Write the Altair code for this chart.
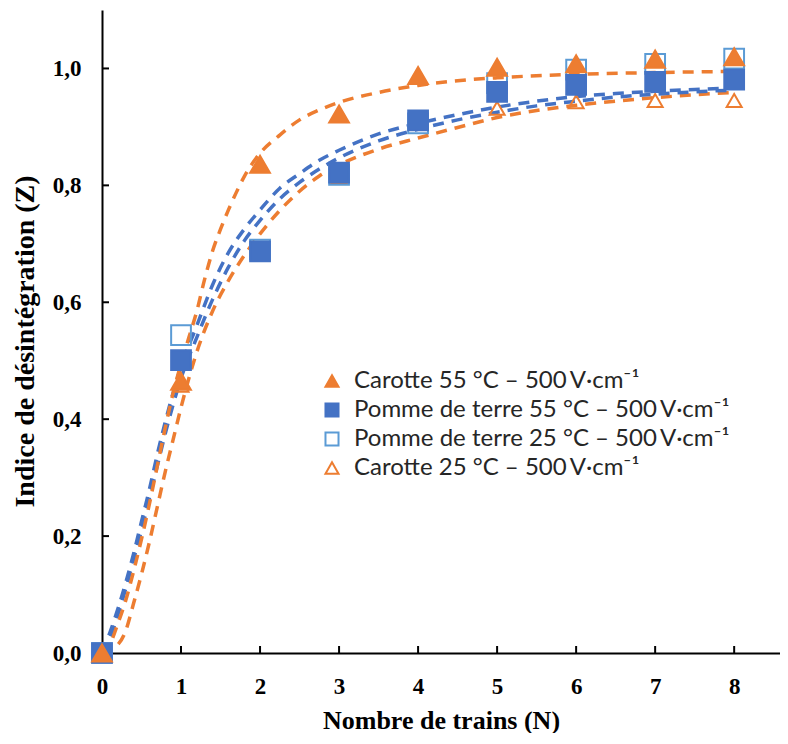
import altair as alt
import pandas as pd

# ---------------- data ----------------
N = [0, 1, 2, 3, 4, 5, 6, 7, 8]
carotte55 = [0, 0.465, 0.836, 0.922, 0.988, 1.002, 1.008, 1.016, 1.020]
pomme55 = [0, 0.501, 0.687, 0.822, 0.911, 0.960, 0.972, 0.977, 0.981]
pomme25 = [0, 0.544, 0.690, 0.818, 0.906, 0.975, 0.998, 1.008, 1.017]
carotte25 = [0, 0.458, 0.684, 0.815, 0.913, 0.932, 0.943, 0.945, 0.945]

# fitted curves
fit_c55_N = [0, 0.1, 0.2, 0.3, 0.4, 0.5, 0.6, 0.7, 0.8, 0.9, 1.0, 1.1, 1.2, 1.3, 1.4, 1.5,
             1.6, 1.7, 1.8, 2.0, 2.25, 2.5, 2.75, 3.0, 3.5, 4.0, 4.5, 5.0, 6.0, 7.0, 8.0]
fit_c55_Z = [0, 0.015, 0.05, 0.09, 0.14, 0.195, 0.255, 0.32, 0.385, 0.445, 0.495, 0.54, 0.585,
             0.64, 0.688, 0.725, 0.758, 0.788, 0.815, 0.855, 0.886, 0.912, 0.929, 0.942, 0.959,
             0.971, 0.979, 0.984, 0.990, 0.993, 0.995]

fit_p_N = [0, 0.1, 0.2, 0.3, 0.4, 0.5, 0.6, 0.7, 0.8, 0.9, 1.0, 1.2, 1.4, 1.6, 1.8, 2.0, 2.25,
           2.5, 2.75, 3.0, 3.5, 4.0, 4.5, 5.0, 5.5, 6.0, 6.5, 7.0, 7.5, 8.0]
fit_p25_Z = [0, 0.035, 0.075, 0.12, 0.17, 0.225, 0.28, 0.34, 0.395, 0.445, 0.49, 0.56, 0.63,
             0.685, 0.725, 0.758, 0.795, 0.82, 0.843, 0.86, 0.888, 0.906, 0.921, 0.934, 0.944,
             0.952, 0.957, 0.961, 0.964, 0.967]
fit_p55_Z = [0, 0.025, 0.065, 0.11, 0.16, 0.21, 0.265, 0.32, 0.375, 0.425, 0.47, 0.54, 0.605,
             0.66, 0.705, 0.74, 0.777, 0.805, 0.828, 0.847, 0.876, 0.896, 0.912, 0.925, 0.936,
             0.944, 0.951, 0.956, 0.96, 0.963]

fit_c25_N = [0, 0.15, 0.3, 0.4, 0.5, 0.6, 0.7, 0.8, 0.9, 1.0, 1.2, 1.4, 1.6, 1.8, 2.0, 2.25,
             2.5, 2.75, 3.0, 3.5, 4.0, 4.5, 5.0, 5.5, 6.0, 6.5, 7.0, 7.5, 8.0]
fit_c25_Z = [0, 0.008, 0.038, 0.085, 0.135, 0.19, 0.25, 0.31, 0.365, 0.42, 0.515, 0.585, 0.637,
             0.68, 0.717, 0.757, 0.79, 0.816, 0.835, 0.862, 0.881, 0.899, 0.916, 0.928, 0.937,
             0.944, 0.95, 0.955, 0.959]

x_ticks = [0, 1, 2, 3, 4, 5, 6, 7, 8]
y_ticks = [0.0, 0.2, 0.4, 0.6, 0.8, 1.0]

S_C55 = "Carotte 55 °C – 500\u2009V·cm⁻¹"
S_P55 = "Pomme de terre 55 °C – 500\u2009V·cm⁻¹"
S_P25 = "Pomme de terre 25 °C – 500\u2009V·cm⁻¹"
S_C25 = "Carotte 25 °C – 500\u2009V·cm⁻¹"
series_order = [S_C55, S_P55, S_P25, S_C25]

ORANGE = "#ED7D31"
BLUE = "#4472C4"
LBLUE = "#5B9BD5"

# ---------------- tables ----------------
rows = []
for name, vals in [(S_C25, carotte25), (S_P25, pomme25), (S_P55, pomme55), (S_C55, carotte55)]:
    for n, z in zip(N, vals):
        rows.append({"N": n, "Z": z, "series": name})
pts = pd.DataFrame(rows)

lrows = []
for cid, col, ns, zs in [("c25", ORANGE, fit_c25_N, fit_c25_Z),
                         ("p55", BLUE, fit_p_N, fit_p55_Z),
                         ("p25", BLUE, fit_p_N, fit_p25_Z),
                         ("c55", ORANGE, fit_c55_N, fit_c55_Z)]:
    for n, z in zip(ns, zs):
        lrows.append({"N": n, "Z": z, "curve": cid, "lc": col})
lines = pd.DataFrame(lrows)

xt = pd.DataFrame({"N": x_ticks[1:]})
yt = pd.DataFrame({"Z": y_ticks[1:]})

W, H = 678, 643
xscale = alt.Scale(domain=[0, 8.58], nice=False)
yscale = alt.Scale(domain=[0, 1.1], nice=False)

SERIF = "Liberation Serif"
axis_common = dict(
    labelFont=SERIF, labelFontWeight="bold", labelFontSize=23, labelColor="black",
    titleFont=SERIF, titleFontWeight="bold", titleColor="black", labelFlush=False,
    ticks=False, domainColor="black", domainWidth=2, grid=False,
)
x_axis = alt.Axis(values=x_ticks, title="Nombre de trains (N)", titleFontSize=26,
                  labelPadding=22, titlePadding=9, **axis_common)
y_axis = alt.Axis(values=y_ticks, title="Indice de désintégration (Z)", titleFontSize=28,
                  labelExpr="replace(format(datum.value, '.1f'), '.', ',')",
                  labelPadding=21, titlePadding=13, titleY=331, **axis_common)

X = alt.X("N:Q", scale=xscale, axis=x_axis)
Y = alt.Y("Z:Q", scale=yscale, axis=y_axis)

legend = alt.Legend(
    title=None, orient="none", legendX=218, legendY=359,
    labelFont="Lato", labelFontSize=24, labelColor="#262626", labelLimit=0,
    symbolSize=170, symbolStrokeWidth=2, labelOffset=10, rowPadding=5,
)
SHAPE = alt.Shape("series:N", scale=alt.Scale(domain=series_order,
                  range=["triangle-up", "square", "square", "triangle-up"]), legend=legend)
FILL = alt.Fill("series:N", scale=alt.Scale(domain=series_order,
                range=[ORANGE, BLUE, "transparent", "transparent"]), legend=legend)
STROKE = alt.Stroke("series:N", scale=alt.Scale(domain=series_order,
                    range=[ORANGE, BLUE, LBLUE, ORANGE]), legend=legend)

line_layer = alt.Chart(lines).mark_line(
    strokeDash=[11, 8], strokeWidth=3.5, interpolate="monotone"
).encode(
    x=X, y=Y,
    color=alt.Color("lc:N", scale=None),
    detail="curve:N",
)

base_pts = alt.Chart(pts)
pt_small = base_pts.transform_filter(alt.datum.series == S_C25).mark_point(
    filled=True, strokeWidth=2, opacity=1, size=225
).encode(x=X, y=Y, shape=SHAPE, fill=FILL, stroke=STROKE)
pt_big = base_pts.transform_filter(alt.datum.series != S_C25).mark_point(
    filled=True, strokeWidth=2, opacity=1, size=390
).encode(x=X, y=Y, shape=SHAPE, fill=FILL, stroke=STROKE)

xtick_layer = alt.Chart(xt).mark_rule(color="black", strokeWidth=2).encode(
    x=X, y=alt.value(H), y2=alt.value(H - 7),
)
ytick_layer = alt.Chart(yt).mark_rule(color="black", strokeWidth=2).encode(
    y=Y, x=alt.value(0), x2=alt.value(7),
)

chart = alt.layer(line_layer, xtick_layer, ytick_layer, pt_small, pt_big).properties(
    width=W, height=H,
    padding={"left": 3, "top": 2, "right": 0, "bottom": 0},
).configure_view(stroke=None)

chart.save("out.html", embed_options={"renderer": "svg", "actions": False})
